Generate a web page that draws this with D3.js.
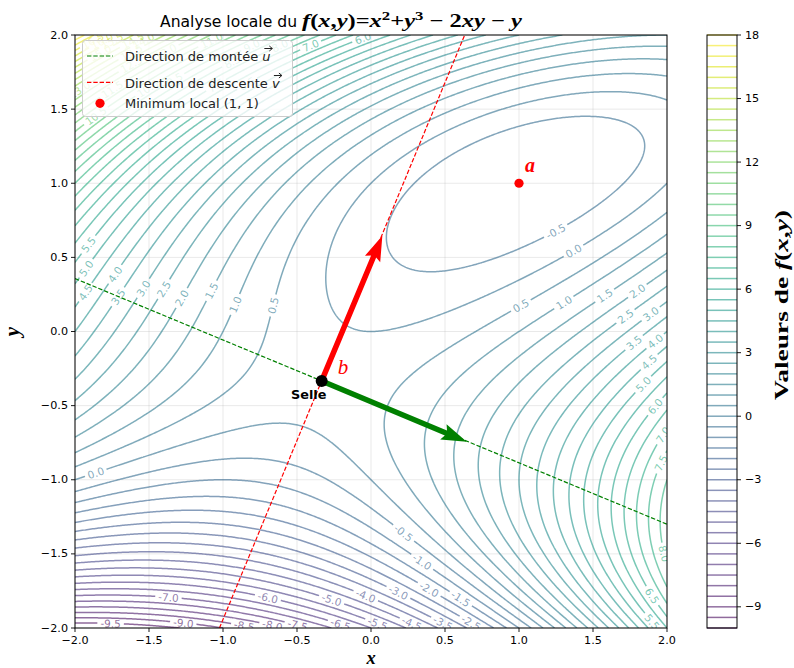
<!DOCTYPE html>
<html><head><meta charset="utf-8">
<script src="https://cdn.jsdelivr.net/npm/d3@7"></script>
<style>body{margin:0;background:#fff}svg{display:block}</style>
</head><body>
<svg id="c" width="794" height="668"></svg>
<script>
// ---------------- data ----------------
const xDomain = [-2, 2];
const yDomain = [-2, 2];
const levels = d3.range(-10, 18.001, 0.5);          // contour levels
const xTicks = [-2, -1.5, -1, -0.5, 0, 0.5, 1, 1.5, 2];
const yTicks = [-2, -1.5, -1, -0.5, 0, 0.5, 1, 1.5, 2];
const cbarTicks = [-9, -6, -3, 0, 3, 6, 9, 12, 15, 18];
const saddle = [-1/3, -1/3];
const minimum = [1, 1];
const ascentVec = [0.98, -0.41];     // green arrow (u)
const descentVec = [0.41, 0.98];     // red arrow (v)
const ascentLine = [[-2, 0.357], [2, -1.300]];
const descentLine = [[-1.024, -2], [0.633, 2]];
const legendLabels = ["Direction de montée\u00a0", "Direction de descente\u00a0", "Minimum local (1, 1)"];
function f(x, y) { return x*x + y*y*y - 2*x*y - y; }

// ---------------- layout ----------------
const svg = d3.select("#c");
const P = {l: 75, r: 667, t: 35, b: 628};
const CB = {l: 707, r: 737};
const xS = d3.scaleLinear().domain(xDomain).range([P.l, P.r]);
const yS = d3.scaleLinear().domain(yDomain).range([P.b, P.t]);
const cS = d3.scaleLinear().domain([levels[0], levels[levels.length-1]]).range([P.b, P.t]);
const col = v => d3.interpolateViridis((v - levels[0]) / (levels[levels.length-1] - levels[0]));
const ALPHA = 0.6;
const SANS = "DejaVu Sans, sans-serif";
const SERIF = "Liberation Serif, DejaVu Serif, serif";

const defs = svg.append("defs");
defs.append("clipPath").attr("id", "clip").append("rect")
  .attr("x", P.l).attr("y", P.t).attr("width", P.r - P.l).attr("height", P.b - P.t);

function textWidth(str, size, family, weight, style) {
  const t = svg.append("text").attr("font-size", size).attr("font-family", family)
    .attr("font-weight", weight || "normal").attr("font-style", style || "normal").text(str);
  const w = t.node().getComputedTextLength(); t.remove(); return w;
}

// grid
const grid = svg.append("g").attr("stroke", "#b0b0b0").attr("stroke-opacity", 0.35).attr("stroke-width", 0.8);
xTicks.forEach(v => grid.append("line").attr("x1", xS(v)).attr("x2", xS(v)).attr("y1", P.t).attr("y2", P.b));
yTicks.forEach(v => grid.append("line").attr("y1", yS(v)).attr("y2", yS(v)).attr("x1", P.l).attr("x2", P.r));

// ---------------- contours ----------------
const N = 400, h = (xDomain[1] - xDomain[0]) / (N - 1);
const vals = new Float64Array(N * N);
for (let j = 0; j < N; j++) for (let i = 0; i < N; i++)
  vals[i + j * N] = f(xDomain[0] + i * h, yDomain[0] + j * h);
const polys = d3.contours().size([N, N]).thresholds(levels)(vals);

function isBoundary(p) { return p[0] === 0 || p[0] === N || p[1] === 0 || p[1] === N; }
function toData(p) { return [xDomain[0] + (p[0] - 0.5) * h, yDomain[0] + (p[1] - 0.5) * h]; }

function orient(run, lev) {
  // orient so that higher values lie on the right-hand side (data coords, y up)
  const k = Math.floor(run.length / 2);
  const a = run[Math.max(0, k - 1)], b = run[Math.min(run.length - 1, k + 1)];
  const dx = b[0] - a[0], dy = b[1] - a[1], L = Math.hypot(dx, dy) || 1;
  const m = run[k], e = 0.01;
  const v = f(m[0] + e * dy / L, m[1] - e * dx / L);
  return v >= lev ? run : run.slice().reverse();
}

function isolinesOf(mp, lev) {
  const out = [];
  mp.coordinates.forEach(poly => poly.forEach(ring0 => {
    let ring = ring0.slice();
    const a = ring[0], b = ring[ring.length - 1];
    if (ring.length > 1 && a[0] === b[0] && a[1] === b[1]) ring.pop();
    const bIdx = ring.findIndex(isBoundary);
    if (bIdx < 0) { out.push({pts: orient(ring.map(toData), lev), closed: true}); return; }
    ring = ring.slice(bIdx).concat(ring.slice(0, bIdx));
    let run = [];
    const flush = () => { if (run.length > 1) out.push({pts: orient(run.map(toData), lev), closed: false}); run = []; };
    for (const p of ring) { if (isBoundary(p)) flush(); else run.push(p); }
    flush();
  }));
  out.forEach(o => {
    const px = [];
    o.pts.forEach(p => { const q = [xS(p[0]), yS(p[1])]; const l = px[px.length-1];
      if (!l || Math.abs(l[0]-q[0]) > 1e-9 || Math.abs(l[1]-q[1]) > 1e-9) px.push(q); });
    o.pts = px;
  });
  return out.filter(o => o.pts.length > 1);
}

function cumLen(R, closed) {
  const c = [0];
  for (let i = 1; i < R.length; i++) c.push(c[i-1] + Math.hypot(R[i][0]-R[i-1][0], R[i][1]-R[i-1][1]));
  const total = closed ? c[c.length-1] + Math.hypot(R[0][0]-R[R.length-1][0], R[0][1]-R[R.length-1][1]) : c[c.length-1];
  return {c, total};
}
function pointAt(R, C, closed, s) {
  const n = R.length;
  if (closed) s = ((s % C.total) + C.total) % C.total;
  else s = Math.max(0, Math.min(C.total, s));
  let lo = 0, hi = n - 1;
  if (closed && s >= C.c[n-1]) {
    const L = C.total - C.c[n-1], fr = L > 0 ? (s - C.c[n-1]) / L : 0;
    return [R[n-1][0] + (R[0][0]-R[n-1][0]) * fr, R[n-1][1] + (R[0][1]-R[n-1][1]) * fr];
  }
  while (hi - lo > 1) { const mid = (lo + hi) >> 1; if (C.c[mid] <= s) lo = mid; else hi = mid; }
  const L = C.c[hi] - C.c[lo], fr = L > 0 ? (s - C.c[lo]) / L : 0;
  return [R[lo][0] + (R[hi][0]-R[lo][0]) * fr, R[lo][1] + (R[hi][1]-R[lo][1]) * fr];
}
function subPath(R, C, closed, a, b) {
  const out = [pointAt(R, C, closed, a)];
  const n = R.length;
  if (closed) {
    const T = C.total;
    for (let lap = 0; lap < 2; lap++) for (let i = 0; i < n; i++) {
      const s = C.c[i] + lap * T;
      if (s > a && s < b) out.push(R[i]);
    }
  } else {
    for (let i = 0; i < n; i++) if (C.c[i] > a && C.c[i] < b) out.push(R[i]);
  }
  out.push(pointAt(R, C, closed, b));
  return out;
}

const LABEL_SIZE = 10.5;
const fmtLab = v => (v < 0 ? "-" : "") + Math.abs(v).toFixed(1);
const placed = [];
const pieces = [];
const labels = [];
const SPACING = 3;

levels.forEach((lev, li) => {
  const lines = isolinesOf(polys[li], lev);
  const txt = fmtLab(lev);
  const lw = textWidth(txt, LABEL_SIZE, SANS);
  lines.forEach(line => {
    const R = line.pts, n = R.length, closed = line.closed;
    const C = cumLen(R, closed);
    const xs = R.map(p => p[0]), ys = R.map(p => p[1]);
    const ptpX = d3.max(xs) - d3.min(xs), ptpY = d3.max(ys) - d3.min(ys);
    if (!(n > 10 * lw || ptpX > 1.2 * lw || ptpY > 1.2 * lw)) {
      pieces.push({pts: R.concat(closed ? [R[0]] : []), lev}); return;
    }
    const nBlocks = lw > 1 ? Math.ceil(n / lw) : 1;
    const bs = nBlocks === 1 ? n : Math.floor(lw);
    const dists = [];
    for (let bI = 0; bI < nBlocks; bI++) {
      const F = R[(bI*bs) % n], Lp = R[(bI*bs + bs - 1) % n];
      const l = Math.hypot(Lp[0]-F[0], Lp[1]-F[1]);
      let sum = 0;
      for (let k = 0; k < bs; k++) {
        const q = R[(bI*bs + k) % n];
        const s = (F[1]-q[1]) * (Lp[0]-F[0]) - (F[0]-q[0]) * (Lp[1]-F[1]);
        sum += Math.abs(s) / l;
      }
      dists.push(isNaN(sum) ? Infinity : sum);
    }
    const hb = Math.floor(bs / 2);
    const order = d3.range(nBlocks).sort((a, b) => dists[a] - dists[b]);
    let m = 0;
    for (const idx of order.concat([order[0]])) {
      m = (idx * bs + hb) % n;
      const pt = R[m];
      if (!placed.some(q => (q[0]-pt[0])**2 + (q[1]-pt[1])**2 < (1.2*lw)**2)) break;
    }
    const pt = R[m];
    placed.push(pt);
    const sm = C.c[m];
    const A = pointAt(R, C, closed, sm - lw/2), B = pointAt(R, C, closed, sm + lw/2);
    let ang = Math.atan2(B[1]-A[1], B[0]-A[0]) * 180 / Math.PI;
    ang = (((ang + 90) % 180) + 180) % 180 - 90;
    labels.push({x: pt[0], y: pt[1], ang, txt, lev});
    const half = lw/2 + SPACING;
    if (closed) {
      if (C.total > 2*half + 1) pieces.push({pts: subPath(R, C, true, sm + half, sm - half + C.total), lev});
    } else {
      if (sm - half > 0.5) pieces.push({pts: subPath(R, C, false, 0, sm - half), lev});
      if (sm + half < C.total - 0.5) pieces.push({pts: subPath(R, C, false, sm + half, C.total), lev});
    }
  });
});

const cg = svg.append("g").attr("clip-path", "url(#clip)");
const lineGen = d3.line();
cg.selectAll("path.ct").data(pieces).enter().append("path").attr("class", "ct")
  .attr("d", d => lineGen(d.pts)).attr("fill", "none")
  .attr("stroke", d => col(d.lev)).attr("stroke-opacity", ALPHA).attr("stroke-width", 1.5)
  .attr("stroke-linejoin", "round");
cg.selectAll("text.cl").data(labels).enter().append("text").attr("class", "cl")
  .attr("transform", d => `translate(${d.x},${d.y}) rotate(${d.ang})`)
  .attr("text-anchor", "middle").attr("dominant-baseline", "central")
  .attr("font-family", SANS).attr("font-size", LABEL_SIZE)
  .attr("fill", d => col(d.lev)).attr("fill-opacity", ALPHA).text(d => d.txt);

// ---------------- direction lines ----------------
const og = svg.append("g").attr("clip-path", "url(#clip)");
og.append("line").attr("x1", xS(ascentLine[0][0])).attr("y1", yS(ascentLine[0][1]))
  .attr("x2", xS(ascentLine[1][0])).attr("y2", yS(ascentLine[1][1]))
  .attr("stroke", "#008000").attr("stroke-width", 1.2).attr("stroke-dasharray", "4.4,1.9");
og.append("line").attr("x1", xS(descentLine[0][0])).attr("y1", yS(descentLine[0][1]))
  .attr("x2", xS(descentLine[1][0])).attr("y2", yS(descentLine[1][1]))
  .attr("stroke", "#ff0000").attr("stroke-width", 1.2).attr("stroke-dasharray", "4.4,1.9");

function arrow(vec, color) {
  const S = [xS(saddle[0]), yS(saddle[1])];
  const T = [xS(saddle[0] + vec[0]), yS(saddle[1] + vec[1])];
  const len = Math.hypot(T[0]-S[0], T[1]-S[1]);
  const d = [(T[0]-S[0]) / len, (T[1]-S[1]) / len], nn = [-d[1], d[0]];
  const w = 5.5, hw = 3 * w, hl = 4.6 * w, hal = 4.1 * w;
  const pt = (base, along, side) => [base[0] + d[0]*along + nn[0]*side, base[1] + d[1]*along + nn[1]*side];
  const poly = [pt(S, 0, w/2), pt(T, -hal, w/2), pt(T, -hl, hw/2), T, pt(T, -hl, -hw/2), pt(T, -hal, -w/2), pt(S, 0, -w/2)];
  og.append("path").attr("d", "M" + poly.map(p => p.join(",")).join("L") + "Z").attr("fill", color);
}
arrow(ascentVec, "#008000");
arrow(descentVec, "#ff0000");

og.append("circle").attr("cx", xS(minimum[0])).attr("cy", yS(minimum[1])).attr("r", 4.6).attr("fill", "#ff0000");
og.append("circle").attr("cx", xS(saddle[0])).attr("cy", yS(saddle[1])).attr("r", 6).attr("fill", "#000");

svg.append("text").attr("x", xS(minimum[0]) + 6).attr("y", yS(minimum[1]) - 11)
  .attr("font-family", SERIF).attr("font-style", "italic").attr("font-weight", "bold")
  .attr("font-size", 20).attr("fill", "#ff0000").text("a");
svg.append("text").attr("x", xS(saddle[0]) + 16).attr("y", yS(saddle[1]) - 7)
  .attr("font-family", SERIF).attr("font-style", "italic")
  .attr("font-size", 21).attr("fill", "#ff0000").text("b");
svg.append("text").attr("x", xS(saddle[0]) - 13).attr("y", yS(saddle[1]) + 18)
  .attr("text-anchor", "middle").attr("font-family", SANS).attr("font-weight", "bold")
  .attr("font-size", 12.8).attr("fill", "#000").text("Selle");

// ---------------- axes ----------------
svg.append("rect").attr("x", P.l).attr("y", P.t).attr("width", P.r - P.l).attr("height", P.b - P.t)
  .attr("fill", "none").attr("stroke", "#000").attr("stroke-width", 1);
const fmtT = v => (v < 0 ? "\u2212" : "") + Math.abs(v).toFixed(1);
const ax = svg.append("g").attr("font-family", SANS).attr("font-size", 11.2).attr("fill", "#000");
xTicks.forEach(v => {
  ax.append("line").attr("x1", xS(v)).attr("x2", xS(v)).attr("y1", P.b).attr("y2", P.b + 4).attr("stroke", "#000").attr("stroke-width", 0.9);
  ax.append("text").attr("x", xS(v)).attr("y", P.b + 16).attr("text-anchor", "middle").text(fmtT(v));
});
yTicks.forEach(v => {
  ax.append("line").attr("y1", yS(v)).attr("y2", yS(v)).attr("x1", P.l - 4).attr("x2", P.l).attr("stroke", "#000").attr("stroke-width", 0.9);
  ax.append("text").attr("x", P.l - 7).attr("y", yS(v)).attr("text-anchor", "end").attr("dominant-baseline", "central").text(fmtT(v));
});
svg.append("text").attr("x", (P.l + P.r) / 2).attr("y", 663.5).attr("text-anchor", "middle")
  .attr("font-family", SERIF).attr("font-style", "italic").attr("font-weight", "bold").attr("font-size", 18.5).text("x");
svg.append("text").attr("transform", `translate(19,${(P.t + P.b) / 2}) rotate(-90)`).attr("text-anchor", "middle")
  .attr("font-family", SERIF).attr("font-style", "italic").attr("font-weight", "bold").attr("font-size", 21).text("y");

// ---------------- title ----------------
svg.append("text").attr("x", 160).attr("y", 26.5).attr("font-family", SANS).attr("font-size", 15.6).text("Analyse locale du");
const mathParts = [["f","i"],["(","b"],["x","i"],[",","b"],["y","i"],[")","b"],["=","b"],["x","i"],["2","s"],["+","b"],["y","i"],["3","s"],["\u00a0\u2212\u00a0","b"],["2","b"],["x","i"],["y","i"],["\u00a0\u2212\u00a0","b"],["y","i"]];
const mt = svg.append("text").attr("x", 302).attr("y", 26.5).attr("font-family", SERIF).attr("font-weight", "bold").attr("font-size", 19)
  .attr("textLength", 220).attr("lengthAdjust", "spacingAndGlyphs");
let up = false;
mathParts.forEach(([s, k]) => {
  const t = mt.append("tspan").text(s);
  if (k === "i") t.attr("font-style", "italic");
  if (k === "s") { t.attr("font-size", 13).attr("dy", -7); up = true; }
  else if (up) { t.attr("dy", 7); up = false; }
});

// ---------------- colorbar ----------------
const cbg = svg.append("g");
levels.forEach(v => cbg.append("line").attr("x1", CB.l).attr("x2", CB.r).attr("y1", cS(v)).attr("y2", cS(v))
  .attr("stroke", col(v)).attr("stroke-opacity", ALPHA).attr("stroke-width", 1.5));
cbg.append("rect").attr("x", CB.l).attr("y", P.t).attr("width", CB.r - CB.l).attr("height", P.b - P.t)
  .attr("fill", "none").attr("stroke", "#000").attr("stroke-width", 1);
const fmtC = v => (v < 0 ? "\u2212" : "") + Math.abs(v);
cbarTicks.forEach(v => {
  cbg.append("line").attr("x1", CB.r).attr("x2", CB.r + 4).attr("y1", cS(v)).attr("y2", cS(v)).attr("stroke", "#000").attr("stroke-width", 0.9);
  cbg.append("text").attr("x", CB.r + 8).attr("y", cS(v)).attr("dominant-baseline", "central")
    .attr("font-family", SANS).attr("font-size", 11.2).text(fmtC(v));
});
const cl = svg.append("text").attr("transform", "translate(788,400) rotate(-90)")
  .attr("font-family", SERIF).attr("font-weight", "bold").attr("font-size", 19)
  .attr("textLength", 190).attr("lengthAdjust", "spacingAndGlyphs");
cl.append("tspan").text("Valeurs de\u00a0");
cl.append("tspan").attr("font-style", "italic").text("f");
cl.append("tspan").text("(");
cl.append("tspan").attr("font-style", "italic").text("x");
cl.append("tspan").text(",");
cl.append("tspan").attr("font-style", "italic").text("y");
cl.append("tspan").text(")");

// ---------------- legend ----------------
const lg = svg.append("g");
lg.append("rect").attr("x", 82.5).attr("y", 40.5).attr("width", 210).attr("height", 76).attr("rx", 3)
  .attr("fill", "#fff").attr("fill-opacity", 0.8).attr("stroke", "#ccc").attr("stroke-width", 1);
const LF = 13;
const rows = [
  {y: 56, base: 61, kind: "line", color: "#008000", vec: "u"},
  {y: 82.3, base: 88, kind: "line", color: "#ff0000", vec: "v"},
  {y: 103.3, base: 108, kind: "dot", color: "#ff0000"}
];
rows.forEach((r, i) => {
  if (r.kind === "line") lg.append("line").attr("x1", 87).attr("x2", 113).attr("y1", r.y).attr("y2", r.y)
    .attr("stroke", r.color).attr("stroke-width", 1.2).attr("stroke-dasharray", "4.4,1.9");
  else lg.append("circle").attr("cx", 100).attr("cy", r.y).attr("r", 4.6).attr("fill", r.color);
  lg.append("text").attr("x", 125).attr("y", r.base).attr("font-family", SANS).attr("font-size", LF).attr("fill", "#222").text(legendLabels[i]);
  if (r.vec) {
    const x0 = 125 + textWidth(legendLabels[i], LF, SANS);
    lg.append("text").attr("x", x0).attr("y", r.base).attr("font-family", SANS).attr("font-style", "italic")
      .attr("font-size", LF).attr("fill", "#222").text(r.vec);
    const ax0 = x0 + 2, ax1 = x0 + 10, ay = r.base - 12.5;
    lg.append("path").attr("d", `M${ax0},${ay}L${ax1},${ay}M${ax1-3},${ay-2.5}L${ax1},${ay}L${ax1-3},${ay+2.5}`)
      .attr("fill", "none").attr("stroke", "#222").attr("stroke-width", 1);
  }
});
</script>
</body></html>
